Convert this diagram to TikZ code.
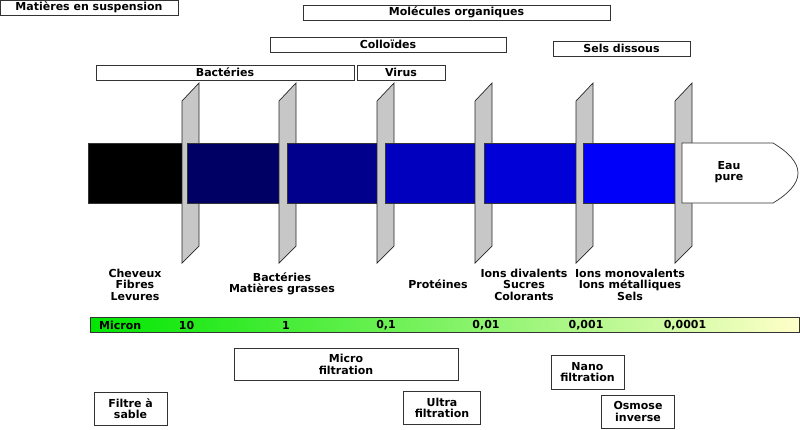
\documentclass[tikz,border=0pt]{standalone}
\usepackage{fontspec}
\setmainfont{DejaVu Sans}
\begin{document}
\begin{tikzpicture}[x=1pt,y=-1pt,
  txt/.style={font=\fontsize{11}{11.5}\selectfont\bfseries, align=center, inner sep=0pt, text=black},
  box/.style={txt, draw=black!80, fill=white, line width=0.9pt},
  bar/.style={draw=black!80, line width=0.7pt},
  membrane/.style={draw=black!85, fill=black!22, line width=0.7pt}]
\useasboundingbox (0,0) rectangle (800,429);
% top boxes
\node[box, minimum width=178pt, minimum height=15pt] (ms) at (89,7.5) {Matières en suspension};
\node[box, minimum width=307pt, minimum height=15pt] (mo) at (456.5,12.5) {Molécules organiques};
\node[box, minimum width=236pt, minimum height=15pt] (co) at (388,44.5) {Colloïdes};
\node[box, minimum width=137pt, minimum height=15pt] (sd) at (621.5,48.5) {Sels dissous};
\node[box, minimum width=258pt, minimum height=15pt] (ba) at (225,72.5) {Bactéries};
\node[box, minimum width=88pt, minimum height=15pt] (vi) at (401,72.5) {Virus};
% bars and membranes
\definecolor{b2}{RGB}{0,0,100}
\definecolor{b3}{RGB}{0,0,140}
\definecolor{b4}{RGB}{0,0,190}
\definecolor{b5}{RGB}{0,0,215}
\definecolor{b6}{RGB}{0,0,250}
\draw[bar, fill=black] (88,143) rectangle (182,203);
\draw[membrane] (182,101) -- (199,83) -- (199,246) -- (182,263) -- cycle;
\draw[bar, fill=b2] (187,143) rectangle (279,203);
\draw[membrane] (279,101) -- (296,83) -- (296,246) -- (279,263) -- cycle;
\draw[bar, fill=b3] (287,143) rectangle (377,203);
\draw[membrane] (377,101) -- (394,83) -- (394,246) -- (377,263) -- cycle;
\draw[bar, fill=b4] (385,143) rectangle (475,203);
\draw[membrane] (475,101) -- (492,83) -- (492,246) -- (475,263) -- cycle;
\draw[bar, fill=b5] (484,143) rectangle (576,203);
\draw[membrane] (576,101) -- (593,83) -- (593,246) -- (576,263) -- cycle;
\draw[bar, fill=b6] (583,143) rectangle (675,203);
\draw[membrane] (675,101) -- (692,83) -- (692,246) -- (675,263) -- cycle;
\draw[bar, fill=white] (682,143) -- (773,143) .. controls (788,152) and (798,162) .. (798,173) .. controls (798,184) and (788,194) .. (773,203) -- (682,203) -- cycle;
\node[txt] (eau) at (729,172) {Eau\\pure};
% labels
\node[txt] (l1) at (135,284.5) {Cheveux\\Fibres\\Levures};
\node[txt] (l2) at (282,284) {Bactéries\\Matières grasses};
\node[txt] (l3) at (438,284.5) {Protéines};
\node[txt] (l4) at (524,284.5) {Ions divalents\\Sucres\\Colorants};
\node[txt] (l5) at (630,284.5) {Ions monovalents\\Ions métalliques\\Sels};
% micron scale
\definecolor{gl}{RGB}{0,230,0}
\definecolor{gr}{RGB}{255,255,200}
\draw[bar, line width=0.9pt, left color=gl, right color=gr] (90,317) rectangle (799,332);
\node[txt, anchor=west] (mic) at (99,325) {Micron};
\node[txt] (n1) at (186.5,325) {10};
\node[txt] (n2) at (286,325) {1};
\node[txt] (n3) at (386,325) {0,1};
\node[txt] (n4) at (486,325) {0,01};
\node[txt] (n5) at (586,325) {0,001};
\node[txt] (n6) at (685,325) {0,0001};
% bottom boxes
\node[box, minimum width=224pt, minimum height=32pt] (mf) at (346,364.5) {Micro\\filtration};
\node[box, minimum width=73pt, minimum height=33pt] (fs) at (130.5,408.5) {Filtre à\\sable};
\node[box, minimum width=77pt, minimum height=33pt] (uf) at (442,408) {Ultra\\filtration};
\node[box, minimum width=73pt, minimum height=34pt] (nf) at (587.5,372) {Nano\\filtration};
\node[box, minimum width=73pt, minimum height=33pt] (oi) at (638,411.5) {Osmose\\inverse};
\end{tikzpicture}
\end{document}
